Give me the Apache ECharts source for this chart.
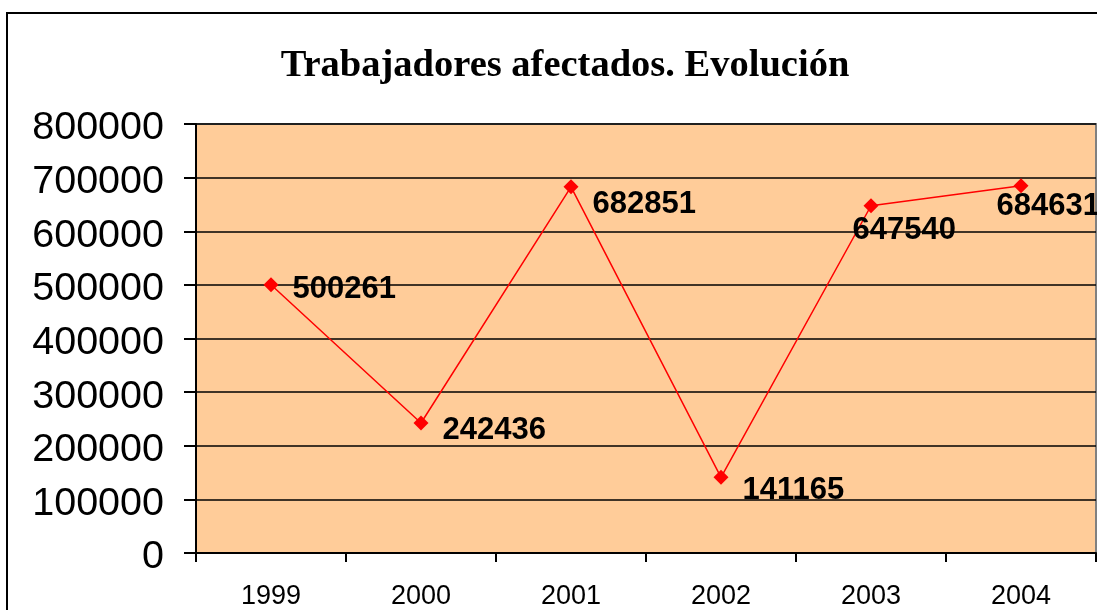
<!DOCTYPE html>
<html>
<head>
<meta charset="utf-8">
<script src="https://cdn.jsdelivr.net/npm/echarts@6/dist/echarts.min.js"></script>
<style>
  html, body { margin: 0; padding: 0; background: #fff; }
  #chart { width: 1097px; height: 610px; }
</style>
</head>
<body>
<div id="chart"></div>
<script>
var years = ['1999', '2000', '2001', '2002', '2003', '2004'];
var workers = [500261, 242436, 682851, 141165, 647540, 684631];
var yTicks = [0, 100000, 200000, 300000, 400000, 500000, 600000, 700000, 800000];

// label nudges so the numbers sit like in the original sheet
var labelShift = [[0, 5], [0, 7], [0, 18], [0, 13], [-40, 25], [-46, 21]];

var mychart = echarts.init(document.getElementById('chart'));

var seriesData = [];
for (var i = 0; i < workers.length; i++) {
    seriesData.push({
        value: workers[i],
        label: { offset: labelShift[i] }
    });
}

mychart.setOption({
    animation: false,
    backgroundColor: '#ffffff',
    title: {
        text: 'Trabajadores afectados. Evolución',
        left: 560,
        top: 42,
        textAlign: 'center',
        textStyle: {
            fontFamily: '"Liberation Serif", "Times New Roman", serif',
            fontWeight: 'bold',
            fontSize: 38.5,
            color: '#000'
        }
    },
    graphic: [{
        type: 'rect',
        shape: { x: 7, y: 13, width: 1100, height: 610 },
        style: { fill: 'none', stroke: '#000', lineWidth: 2 },
        silent: true
    }],
    grid: {
        left: 196,
        top: 124,
        width: 900,
        height: 429,
        show: true,
        backgroundColor: '#FFCC99',
        borderColor: '#808080',
        borderWidth: 2
    },
    xAxis: {
        type: 'category',
        data: years,
        boundaryGap: true,
        axisLine: { lineStyle: { color: '#000', width: 2 } },
        axisTick: { show: true, length: 9, alignWithLabel: false, lineStyle: { color: '#000', width: 2 } },
        axisLabel: {
            margin: 30,
            fontFamily: '"Liberation Sans", Arial, sans-serif',
            fontSize: 27,
            color: '#000'
        },
        splitLine: { show: false }
    },
    yAxis: {
        type: 'value',
        min: yTicks[0],
        max: yTicks[yTicks.length - 1],
        interval: yTicks[1] - yTicks[0],
        axisLine: { show: true, lineStyle: { color: '#000', width: 2 } },
        axisTick: { show: true, length: 12, lineStyle: { color: '#000', width: 2 } },
        axisLabel: {
            margin: 32,
            color: '#000',
            formatter: function (v) { return '{n|' + v + '}'; },
            rich: {
                n: {
                    fontFamily: '"Liberation Sans", Arial, sans-serif',
                    fontSize: 39.5,
                    color: '#000',
                    padding: [9, 0, 0, 0]
                }
            }
        },
        splitLine: { show: true, lineStyle: { color: '#000', width: 1.5 } }
    },
    series: [{
        type: 'line',
        data: seriesData,
        lineStyle: { color: '#FF0000', width: 1.5 },
        itemStyle: { color: '#FF0000' },
        symbol: 'diamond',
        symbolSize: 15,
        label: {
            show: true,
            position: 'right',
            distance: 14,
            fontFamily: '"Liberation Sans", Arial, sans-serif',
            fontWeight: 'bold',
            fontSize: 31,
            color: '#000'
        }
    }]
});
</script>
</body>
</html>
